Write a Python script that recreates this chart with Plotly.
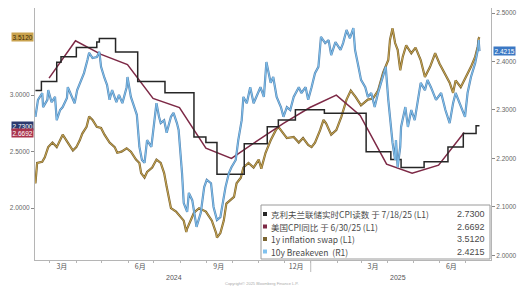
import plotly.graph_objects as go

# ---------------- data ----------------
cpi_dates = ["2024-02-29","2024-03-31","2024-04-30","2024-05-31","2024-06-30","2024-07-31",
             "2024-08-31","2024-09-30","2024-10-31","2024-11-30","2024-12-31","2025-01-31",
             "2025-02-28","2025-03-31","2025-04-30","2025-05-31","2025-06-30"]
cpi_vals = [3.15,3.48,3.36,3.27,2.97,2.89,2.53,2.44,2.60,2.75,2.89,3.00,2.82,2.39,2.31,2.38,2.6692]

nc_dates = ["2024-02-13","2024-02-20","2024-03-09","2024-03-14","2024-04-01","2024-04-25",
            "2024-04-28","2024-05-17","2024-06-12","2024-07-14","2024-08-17","2024-08-31",
            "2024-09-13","2024-10-15","2024-11-11","2024-11-24","2024-12-14","2025-01-17",
            "2025-03-07","2025-04-05","2025-04-17","2025-05-14","2025-06-11","2025-06-29",
            "2025-07-14","2025-07-18"]
nc_vals = [3.04,3.12,3.29,3.34,3.42,3.47,3.50,3.38,3.12,3.02,2.63,2.58,2.30,2.57,2.72,2.78,
           2.87,2.84,2.50,2.43,2.36,2.41,2.54,2.66,2.73,2.73]

swap_dates = ["2024-02-13","2024-02-15","2024-02-21","2024-02-24","2024-02-28","2024-03-04",
              "2024-03-09","2024-03-13","2024-03-16","2024-03-22","2024-03-28","2024-04-01",
              "2024-04-05","2024-04-08","2024-04-13","2024-04-16","2024-04-20","2024-04-25",
              "2024-04-30","2024-05-04","2024-05-10","2024-05-16","2024-05-19","2024-05-24",
              "2024-05-30","2024-06-04","2024-06-10","2024-06-14","2024-06-16","2024-06-20",
              "2024-06-23","2024-06-29","2024-07-04","2024-07-09","2024-07-13","2024-07-16",
              "2024-07-21","2024-07-27","2024-08-02","2024-08-05","2024-08-08","2024-08-09",
              "2024-08-17","2024-08-23","2024-08-31","2024-09-07","2024-09-12","2024-09-13",
              "2024-09-17","2024-09-21","2024-09-24","2024-09-29","2024-10-03","2024-10-06",
              "2024-10-11","2024-10-14","2024-10-20","2024-10-26","2024-11-01","2024-11-04",
              "2024-11-09","2024-11-15","2024-11-21","2024-11-24","2024-11-30","2024-12-04",
              "2024-12-12","2024-12-18","2024-12-23","2024-12-29","2025-01-02","2025-01-06",
              "2025-01-12","2025-01-16","2025-01-19","2025-01-25","2025-01-31","2025-02-06",
              "2025-02-12","2025-02-17","2025-02-23","2025-03-01","2025-03-09","2025-03-15",
              "2025-03-21","2025-03-27","2025-04-02","2025-04-04","2025-04-07","2025-04-10",
              "2025-04-13","2025-04-16","2025-04-19","2025-04-23","2025-04-29","2025-05-04",
              "2025-05-10","2025-05-15","2025-05-21","2025-05-27","2025-06-01","2025-06-07",
              "2025-06-13","2025-06-17","2025-06-20","2025-06-26","2025-07-02","2025-07-08",
              "2025-07-13","2025-07-16","2025-07-17","2025-07-18"]
swap_vals = [2.22,2.40,2.41,2.45,2.54,2.58,2.54,2.60,2.65,2.58,2.51,2.54,2.60,2.66,2.72,2.81,
             2.78,2.72,2.71,2.65,2.58,2.54,2.49,2.50,2.53,2.50,2.43,2.40,2.31,2.27,2.32,2.36,
             2.43,2.40,2.31,2.19,2.00,1.97,1.92,1.89,1.79,1.82,1.96,2.00,1.97,1.89,1.78,1.74,
             1.78,1.89,2.04,2.07,2.10,2.22,2.27,2.36,2.40,2.36,2.43,2.35,2.49,2.60,2.69,2.72,
             2.66,2.62,2.63,2.58,2.62,2.56,2.54,2.58,2.69,2.78,2.75,2.65,2.69,2.81,2.96,3.04,
             2.98,2.91,2.96,2.97,3.04,3.20,3.31,3.49,3.59,3.46,3.40,3.22,3.34,3.44,3.37,3.42,
             3.31,3.16,3.25,3.37,3.28,3.20,3.11,3.02,3.13,3.07,3.16,3.25,3.34,3.43,3.50,3.512]

be_dates = ["2024-02-13","2024-02-16","2024-02-21","2024-02-22","2024-02-27","2024-02-28",
            "2024-03-03","2024-03-07","2024-03-09","2024-03-13","2024-03-16","2024-03-21",
            "2024-03-22","2024-03-27","2024-03-30","2024-04-02","2024-04-07","2024-04-10",
            "2024-04-14","2024-04-16","2024-04-20","2024-04-25","2024-04-28","2024-04-30",
            "2024-05-04","2024-05-07","2024-05-10","2024-05-13","2024-05-18","2024-05-21",
            "2024-05-25","2024-05-30","2024-05-31","2024-06-04","2024-06-08","2024-06-11",
            "2024-06-14","2024-06-17","2024-06-20","2024-06-23","2024-06-28","2024-07-01",
            "2024-07-04","2024-07-07","2024-07-09","2024-07-13","2024-07-16","2024-07-21",
            "2024-07-24","2024-07-28","2024-07-30","2024-08-03","2024-08-05","2024-08-09",
            "2024-08-11","2024-08-15","2024-08-17","2024-08-20","2024-08-25","2024-08-29",
            "2024-09-01","2024-09-06","2024-09-09","2024-09-13","2024-09-17","2024-09-23",
            "2024-09-27","2024-09-30","2024-10-05","2024-10-08","2024-10-12","2024-10-14",
            "2024-10-18","2024-10-22","2024-10-26","2024-10-29","2024-11-03","2024-11-07",
            "2024-11-10","2024-11-15","2024-11-18","2024-11-22","2024-11-27","2024-11-30",
            "2024-12-04","2024-12-08","2024-12-12","2024-12-18","2024-12-21","2024-12-26",
            "2024-12-29","2025-01-02","2025-01-06","2025-01-10","2025-01-13","2025-01-18",
            "2025-01-22","2025-01-25","2025-01-30","2025-02-05","2025-02-08","2025-02-12",
            "2025-02-16","2025-02-20","2025-02-22","2025-02-26","2025-03-01","2025-03-06",
            "2025-03-09","2025-03-13","2025-03-17","2025-03-21","2025-03-27","2025-03-30",
            "2025-04-02","2025-04-05","2025-04-07","2025-04-10","2025-04-11","2025-04-13",
            "2025-04-16","2025-04-17","2025-04-22","2025-04-25","2025-04-29","2025-05-03",
            "2025-05-07","2025-05-10","2025-05-15","2025-05-18","2025-05-22","2025-05-28",
            "2025-06-03","2025-06-08","2025-06-13","2025-06-17","2025-06-20","2025-06-25",
            "2025-07-01","2025-07-04","2025-07-08","2025-07-13","2025-07-16","2025-07-17",
            "2025-07-18"]
be_vals = [2.286,2.321,2.335,2.306,2.321,2.341,2.316,2.327,2.279,2.300,2.306,2.325,2.347,
           2.327,2.314,2.341,2.362,2.376,2.403,2.418,2.407,2.409,2.420,2.389,2.366,2.352,
           2.321,2.341,2.316,2.331,2.314,2.347,2.368,2.327,2.306,2.290,2.224,2.197,2.191,
           2.238,2.224,2.273,2.314,2.286,2.273,2.279,2.253,2.286,2.294,2.273,2.259,2.170,
           2.108,2.090,2.129,2.114,2.088,2.059,2.088,2.141,2.156,2.149,2.100,2.073,2.079,
           2.141,2.170,2.182,2.197,2.238,2.279,2.327,2.314,2.347,2.314,2.327,2.347,2.327,
           2.399,2.356,2.368,2.327,2.306,2.286,2.306,2.300,2.327,2.347,2.335,2.347,2.321,
           2.347,2.376,2.389,2.451,2.438,2.444,2.413,2.440,2.424,2.438,2.465,2.448,2.469,
           2.424,2.389,2.362,2.347,2.327,2.335,2.306,2.335,2.372,2.389,2.321,2.265,2.232,
           2.197,2.238,2.182,2.224,2.265,2.306,2.265,2.300,2.279,2.321,2.356,2.341,2.362,
           2.347,2.321,2.335,2.300,2.273,2.314,2.335,2.314,2.286,2.335,2.368,2.397,2.424,
           2.444,2.4215]

month_ticks = ["2024-03-15","2024-06-15","2024-09-15","2024-12-15","2025-03-15","2025-06-15"]
month_labels = ["3月","6月","9月","12月","3月","6月"]
years = ["2024","2025"]

legend_names = ["克利夫兰联储实时CPI读数 于 7/18/25 (L1)", "美国CPI同比 于 6/30/25 (L1)",
                "1y inflation swap (L1)", "10y Breakeven  (R1)"]
legend_values = ["2.7300", "2.6692", "3.5120", "2.4215"]

# ---------------- style ----------------
C_NC = "#262626"
C_CPI = "#7d2946"
C_SWAP = "#c9a654"
C_SWAP_EDGE = "#7a6430"
C_BE = "#80c2ef"
C_BE_EDGE = "#5a88b4"
FONT = "Liberation Sans"
CJK = "Noto Sans CJK SC"

fig = go.Figure()
fig.add_trace(go.Scatter(x=be_dates, y=be_vals, yaxis="y2", mode="lines",
                         line=dict(color=C_BE_EDGE, width=2.2), hoverinfo="skip"))
fig.add_trace(go.Scatter(x=be_dates, y=be_vals, yaxis="y2", mode="lines",
                         line=dict(color=C_BE, width=1.0)))
fig.add_trace(go.Scatter(x=swap_dates, y=swap_vals, mode="lines",
                         line=dict(color=C_SWAP_EDGE, width=2.2), hoverinfo="skip"))
fig.add_trace(go.Scatter(x=swap_dates, y=swap_vals, mode="lines",
                         line=dict(color=C_SWAP, width=1.0)))
fig.add_trace(go.Scatter(x=cpi_dates, y=cpi_vals, mode="lines",
                         line=dict(color=C_CPI, width=1.5)))
fig.add_trace(go.Scatter(x=nc_dates, y=nc_vals, mode="lines",
                         line=dict(color=C_NC, width=1.5, shape="hv")))

# plot-area geometry in pixels (for paper-coordinate conversion)
L, R, T, B = 35, 493, 8, 260
def px(xp):
    return (xp - L) / (R - L)
def py(yp):
    return (B - yp) / (B - T)

annotations = []
shapes = []

# left axis value tags
for val, bg, fg in [("3.5120", "#c9a24e", "#3b2c05"),
                    ("2.7300", "#2c3a6e", "#ffffff"),
                    ("2.6692", "#a9344d", "#ffffff")]:
    annotations.append(dict(xref="paper", yref="y", x=0, y=float(val), text=val,
                            xanchor="right", yanchor="middle", xshift=-1, showarrow=False,
                            bgcolor=bg, borderpad=0.5,
                            font=dict(family=FONT, size=6.5, color=fg)))
# right axis value tag
annotations.append(dict(xref="paper", yref="y2", x=1, y=2.4215, text="2.4215",
                        xanchor="left", yanchor="middle", xshift=2, showarrow=False,
                        bgcolor="#3b78c4", borderpad=0.5,
                        font=dict(family=FONT, size=6.5, color="#ffffff")))

# year labels
for yr, xp in zip(years, [175, 400]):
    annotations.append(dict(xref="paper", yref="paper", x=px(xp), y=py(277), text=yr,
                            showarrow=False, xanchor="center", yanchor="middle",
                            font=dict(family=FONT, size=7, color="#555")))
shapes.append(dict(type="line", xref="x", yref="paper", x0="2025-01-01", x1="2025-01-01",
                   y0=py(261), y1=py(272), line=dict(color="#bbb", width=1)))
annotations.append(dict(xref="paper", yref="paper", x=px(263), y=py(283),
                        text="Copyright© 2025 Bloomberg Finance L.P.", showarrow=False,
                        xanchor="center", yanchor="middle",
                        font=dict(family=FONT, size=4, color="#aaa")))

# legend box
shapes.append(dict(type="rect", xref="paper", yref="paper", x0=px(262), x1=px(492),
                   y0=py(259), y1=py(205), fillcolor="rgba(255,255,255,0.97)",
                   line=dict(color="#9a9a9a", width=1), layer="above"))
colors = [C_NC, C_CPI, C_SWAP_EDGE, C_BE]
for i, (name, val, col) in enumerate(zip(legend_names, legend_values, colors)):
    yp = 214 + i * 12.5
    shapes.append(dict(type="rect", xref="paper", yref="paper", x0=px(264), x1=px(268),
                       y0=py(yp + 2), y1=py(yp - 2), fillcolor=col, line=dict(width=0),
                       layer="above"))
    annotations.append(dict(xref="paper", yref="paper", x=px(270), y=py(yp), text=name,
                            showarrow=False, xanchor="left", yanchor="middle",
                            font=dict(family=CJK, size=8.5, color="#4a4a4a")))
    annotations.append(dict(xref="paper", yref="paper", x=px(489), y=py(yp), text=val,
                            showarrow=False, xanchor="right", yanchor="middle",
                            font=dict(family=FONT, size=9, color="#4a4a4a")))

fig.update_layout(
    width=525, height=288,
    margin=dict(l=L, r=525 - R, t=T, b=288 - B),
    paper_bgcolor="white", plot_bgcolor="white",
    showlegend=False,
    xaxis=dict(range=["2024-02-12 12:00", "2025-07-31 12:00"], type="date",
               tickvals=month_ticks, ticktext=month_labels, ticks="", showgrid=False,
               zeroline=False, showline=True, linecolor="#b5b5b5", linewidth=1,
               tickfont=dict(family=CJK, size=7, color="#555"),
               minor=dict(ticks="outside", ticklen=2, tickcolor="#b5b5b5",
                          dtick="M1", tick0="2024-01-01", showgrid=False)),
    yaxis=dict(range=[1.542, 3.770], tickvals=[2.0, 2.5, 3.0], tickformat=".4f",
               showgrid=False, zeroline=False, showline=True, linecolor="#b5b5b5",
               linewidth=1, ticks="outside", ticklen=3, tickcolor="#888",
               tickfont=dict(family=FONT, size=6.5, color="#666")),
    yaxis2=dict(range=[1.9907, 2.5103], overlaying="y", side="right",
                tickvals=[2.0, 2.1, 2.2, 2.3, 2.4, 2.5], tickformat=".4f",
                showgrid=False, zeroline=False, showline=True, linecolor="#b5b5b5",
                linewidth=1, ticks="outside", ticklen=3, tickcolor="#888",
                tickfont=dict(family=FONT, size=6.5, color="#666")),
    annotations=annotations, shapes=shapes,
)

fig.write_html("out.html")
